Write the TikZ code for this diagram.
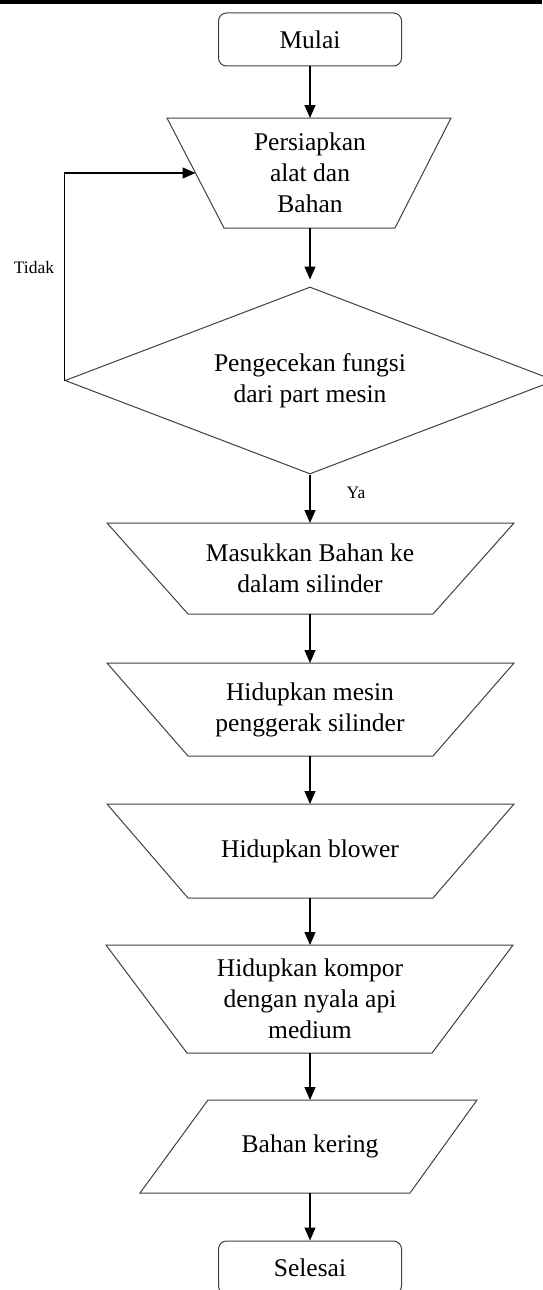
\documentclass[tikz,border=0pt]{standalone}
\usepackage{fontspec}
\setmainfont{Liberation Serif}
\usetikzlibrary{shapes.geometric,arrows.meta}
\begin{document}
\begin{tikzpicture}[x=1pt,y=-1pt,
  shapeline/.style={draw=black!75, line width=1pt},
  box/.style={shapeline, font=\fontsize{25.5}{31}\selectfont, align=center, inner sep=2pt},
  term/.style={box, rectangle, rounded corners=8pt, minimum width=183pt, minimum height=53pt},
  txt/.style={font=\fontsize{25.5}{31}\selectfont, align=center, inner sep=0pt, outer sep=0pt, rectangle, minimum width=100pt},
  dec/.style={box, diamond, aspect=2.62, minimum width=490pt, minimum height=187pt},
  arr/.style={-{Triangle[length=13pt,width=11pt]}, line width=1.2pt, black},
  lbl/.style={font=\fontsize{17.5}{20}\selectfont, inner sep=0pt}
]
\useasboundingbox (0,0) rectangle (542,1290);
\fill[black] (0,0) rectangle (542,4);

% shapes
\draw[shapeline] (167,118) -- (451,118) -- (395,228) -- (224,228) -- cycle;
\draw[shapeline] (107,523) -- (514,523) -- (433,614) -- (188,614) -- cycle;
\draw[shapeline] (107,663) -- (514,663) -- (433,756) -- (188,756) -- cycle;
\draw[shapeline] (107,804) -- (514,804) -- (433,898) -- (188,898) -- cycle;
\draw[shapeline] (106,945) -- (513,945) -- (432,1053) -- (187,1053) -- cycle;
\draw[shapeline] (208,1100) -- (477,1100) -- (410,1193) -- (140,1193) -- cycle;

% nodes
\node[term] (start) at (310,39.5) {Mulai};
\node[txt, minimum height=110pt] (t1) at (310,173) {Persiapkan\\alat dan\\Bahan};
\coordinate (t1l) at (195.5,173);
\node[dec] (d) at (310,380.5) {Pengecekan fungsi\\dari part mesin};
\node[txt, minimum height=91pt] (t2) at (310,568.5) {Masukkan Bahan ke\\dalam silinder};
\node[txt, minimum height=93pt] (t3) at (310,709.5) {Hidupkan mesin\\penggerak silinder};
\node[txt, minimum height=94pt] (t4) at (310,851) {Hidupkan blower};
\node[txt, minimum height=108pt] (t5) at (310,999) {Hidupkan kompor\\dengan nyala api\\medium};
\node[txt, minimum height=93pt] (p) at (310,1146.5) {Bahan kering};
\node[term] (end) at (310,1267.5) {Selesai};

\node[lbl] (tidak) at (34,268) {Tidak};
\node[lbl] (ya) at (356,493) {Ya};

% connectors
\draw[arr] (start.south) -- (t1.north);
\draw[arr, shorten >=7pt] (t1.south) -- (d.north);
\draw[arr] (d.south) -- (t2.north);
\draw[arr] (t2.south) -- (t3.north);
\draw[arr] (t3.south) -- (t4.north);
\draw[arr] (t4.south) -- (t5.north);
\draw[arr] (t5.south) -- (p.north);
\draw[arr] (p.south) -- (end.north);
\draw[arr] (d.west) |- (t1l);
\end{tikzpicture}
\end{document}
